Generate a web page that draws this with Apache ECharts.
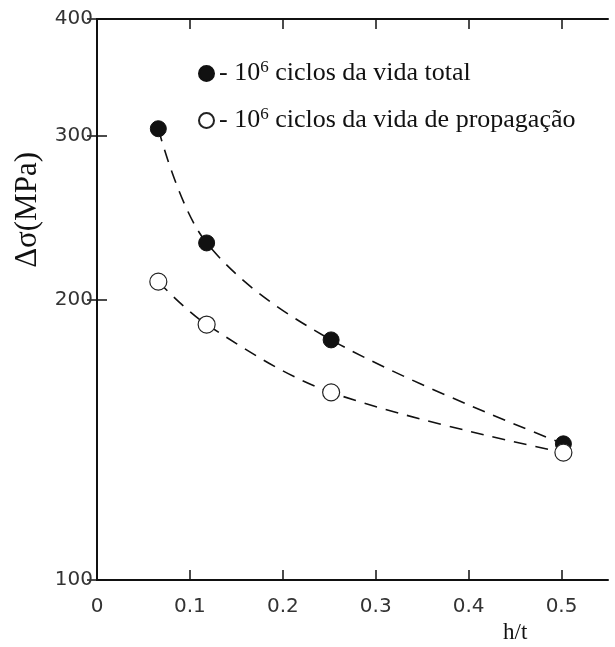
<!DOCTYPE html>
<html lang="pt">

<head>
    <meta charset="UTF-8" />
    <title>Delta sigma vs h/t</title>
    <script src="https://cdn.jsdelivr.net/npm/echarts@6.0.0/dist/echarts.min.js"></script>
    <style>
        body { margin: 0; background: #fff; }
    </style>
</head>

<body>
    <div id="main" style="width: 615px; height: 647px"></div>
    <script type="text/javascript">
        // values
        const hT = [0.066, 0.118, 0.252, 0.502];
        const vidaTotal = [305, 230, 181, 140];
        const vidaPropagacao = [209, 188, 159, 137];
        const xTicks = [0, 0.1, 0.2, 0.3, 0.4, 0.5];
        const yTicks = [100, 200, 300, 400];
        const nameTotal = "10^6 ciclos da vida total";
        const namePropag = "10^6 ciclos da vida de propagação";

        const serif = "'Liberation Serif', 'DejaVu Serif', serif";
        const sans = "'DejaVu Sans', 'Liberation Sans', sans-serif";

        const pairs = (xs, ys) => xs.map((x, i) => [x, ys[i]]);

        const tickStyle = { inside: true, length: 10, lineStyle: { color: "#111", width: 1.5 } };
        const lineStyle = { color: "#111", width: 2 };

        let options = {
            animation: false,
            backgroundColor: "#fff",
            grid: { left: 97, right: 7, top: 19, bottom: 67, containLabel: false },
            legend: {
                orient: "vertical",
                left: 193,
                top: 54,
                itemWidth: 15,
                itemHeight: 15,
                itemGap: 18,
                icon: "circle",
                data: [nameTotal, namePropag],
                formatter: (name) => {
                    const rest = name.replace("10^6 ", "");
                    return "{t|- 10}{s|6}{t| " + rest + "}";
                },
                textStyle: {
                    rich: {
                        t: { fontFamily: serif, fontSize: 26, color: "#111", lineHeight: 29 },
                        s: { fontFamily: serif, fontSize: 17, color: "#111", lineHeight: 29, verticalAlign: "top", padding: [0, 0, 12, 0] },
                    },
                },
            },
            xAxis: [
                {
                    type: "value",
                    min: 0,
                    max: 0.55,
                    interval: 0.1,
                    position: "bottom",
                    splitLine: { show: false },
                    axisLine: { lineStyle: lineStyle },
                    axisTick: Object.assign({ customValues: xTicks }, tickStyle),
                    axisLabel: {
                        customValues: xTicks,
                        margin: 17,
                        fontFamily: sans,
                        fontSize: 20,
                        color: "#333",
                    },
                },
                {
                    type: "value",
                    min: 0,
                    max: 0.55,
                    interval: 0.1,
                    position: "top",
                    splitLine: { show: false },
                    axisLine: { lineStyle: lineStyle },
                    axisTick: Object.assign({ customValues: xTicks }, tickStyle),
                    axisLabel: { show: false },
                },
            ],
            yAxis: [
                {
                    type: "log",
                    logBase: 10,
                    min: 100,
                    max: 400,
                    position: "left",
                    splitLine: { show: false },
                    axisLine: { lineStyle: lineStyle },
                    axisTick: Object.assign({ customValues: yTicks }, tickStyle),
                    axisLabel: {
                        customValues: yTicks,
                        margin: 4,
                        fontFamily: sans,
                        fontSize: 20,
                        color: "#333",
                    },
                },
                {
                    type: "log",
                    logBase: 10,
                    min: 100,
                    max: 400,
                    position: "right",
                    splitLine: { show: false },
                    axisLine: { lineStyle: lineStyle },
                    axisTick: Object.assign({ customValues: yTicks }, tickStyle),
                    axisLabel: { show: false },
                },
            ],
            graphic: [
                {
                    type: "text",
                    left: 12,
                    top: 152,
                    rotation: Math.PI / 2,
                    style: {
                        text: "Δσ(MPa)",
                        font: "31px " + serif,
                        fill: "#111",
                    },
                },
                {
                    type: "text",
                    left: 503,
                    top: 621,
                    style: {
                        text: "h/t",
                        font: "23px " + serif,
                        fill: "#111",
                    },
                },
            ],
            series: [
                {
                    name: nameTotal,
                    type: "line",
                    smooth: 0.35,
                    data: pairs(hT, vidaTotal),
                    symbol: "circle",
                    symbolSize: 16,
                    itemStyle: { color: "#111", borderColor: "#111", borderWidth: 1 },
                    lineStyle: { color: "#111", width: 1.6, type: [13, 9] },
                },
                {
                    name: namePropag,
                    type: "line",
                    smooth: 0.35,
                    data: pairs(hT, vidaPropagacao),
                    symbol: "circle",
                    symbolSize: 17,
                    itemStyle: { color: "#fff", borderColor: "#222", borderWidth: 1.2 },
                    lineStyle: { color: "#111", width: 1.6, type: [13, 9] },
                },
            ],
        };

        let myChart = echarts.init(document.getElementById("main"));
        myChart.setOption(options);
    </script>
</body>

</html>
